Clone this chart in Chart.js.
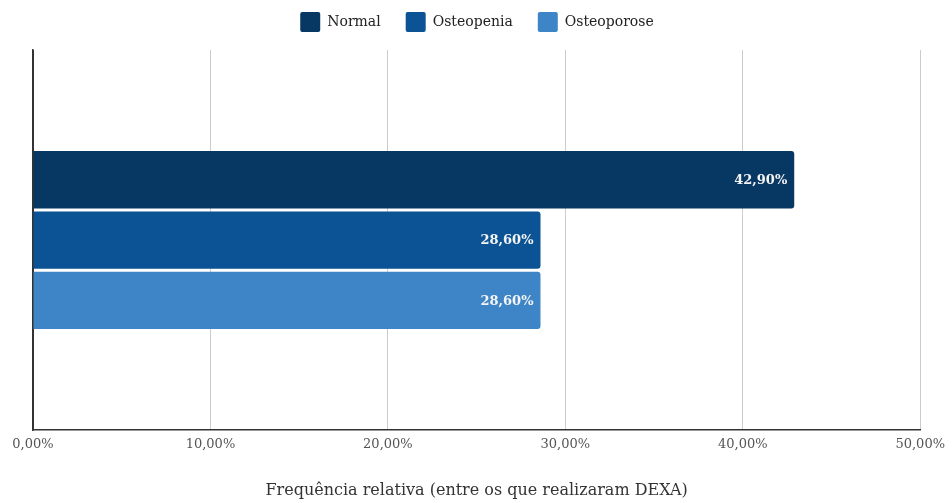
<!DOCTYPE html>
<html>
<head>
<meta charset="utf-8">
<script src="https://cdn.jsdelivr.net/npm/chart.js@4"></script>
<style>
  html, body { margin: 0; padding: 0; background: #fff; }
  #wrap { width: 952px; height: 503px; }
</style>
</head>
<body>
<div id="wrap"><canvas id="chart" width="952" height="503"></canvas></div>
<script>
// dados
const categories = ['DEXA'];
const seriesNames = ['Normal', 'Osteopenia', 'Osteoporose'];
const normalValues = [42.9];
const osteopeniaValues = [28.6];
const osteoporoseValues = [28.6];
const xTicks = [0, 10, 20, 30, 40, 50];
const colors = ['#073763', '#0b5394', '#3d85c6'];

const fontFamily = '"DejaVu Serif", Georgia, serif';
const fmt = v => v.toFixed(2).replace('.', ',') + '%';

// rótulos dentro das barras
const barLabels = {
    id: 'barLabels',
    afterDatasetsDraw(chart) {
        const ctx = chart.ctx;
        ctx.save();
        ctx.font = 'bold 13px ' + fontFamily;
        ctx.fillStyle = '#f4f4f4';
        ctx.textAlign = 'right';
        ctx.textBaseline = 'middle';
        chart.data.datasets.forEach((ds, i) => {
            chart.getDatasetMeta(i).data.forEach((bar, j) => {
                ctx.fillText(fmt(ds.data[j]), bar.x - 7, bar.y + 1);
            });
        });
        ctx.restore();
    }
};

// espaço extra abaixo da legenda
const legendGap = {
    id: 'legendGap',
    beforeInit(chart) {
        const fit = chart.legend.fit;
        chart.legend.fit = function () {
            fit.call(this);
            this.height += 8;
        };
    }
};

const ctx = document.getElementById('chart').getContext('2d');
const chart = new Chart(ctx, {
    type: 'bar',
    data: {
        labels: categories,
        datasets: [
            { label: seriesNames[0], data: normalValues, backgroundColor: colors[0] },
            { label: seriesNames[1], data: osteopeniaValues, backgroundColor: colors[1] },
            { label: seriesNames[2], data: osteoporoseValues, backgroundColor: colors[2] }
        ]
    },
    options: {
        indexAxis: 'y',
        responsive: false,
        animation: false,
        layout: { padding: { left: 33, right: 31, top: -13, bottom: 3 } },
        datasets: {
            bar: {
                categoryPercentage: 0.476,
                barPercentage: 0.95,
                borderRadius: { topRight: 3, bottomRight: 3 },
                borderSkipped: 'left'
            }
        },
        plugins: {
            legend: {
                position: 'top',
                labels: {
                    boxWidth: 20,
                    boxHeight: 20,
                    padding: 25,
                    color: '#222',
                    font: { family: fontFamily, size: 14 },
                    useBorderRadius: true,
                    borderRadius: 2
                }
            },
            tooltip: { enabled: false }
        },
        scales: {
            x: {
                min: 0,
                max: 50,
                afterBuildTicks: scale => { scale.ticks = xTicks.map(v => ({ value: v })); },
                grid: {
                    color: c => c.index === 0 ? '#333' : '#cccccc',
                    drawTicks: false
                },
                border: { color: '#333', width: 1.5 },
                ticks: {
                    color: '#555',
                    padding: 7,
                    font: { family: fontFamily, size: 13 },
                    callback: v => fmt(v)
                },
                title: {
                    display: true,
                    text: 'Frequência relativa (entre os que realizaram DEXA)',
                    color: '#333',
                    font: { family: fontFamily, size: 16 },
                    padding: { top: 21, bottom: 0 }
                }
            },
            y: {
                grid: { display: false },
                border: { color: '#333', width: 1.5 },
                ticks: { display: false },
                afterFit: s => { s.width = 0; }
            }
        }
    },
    plugins: [barLabels, legendGap]
});
</script>
</body>
</html>
